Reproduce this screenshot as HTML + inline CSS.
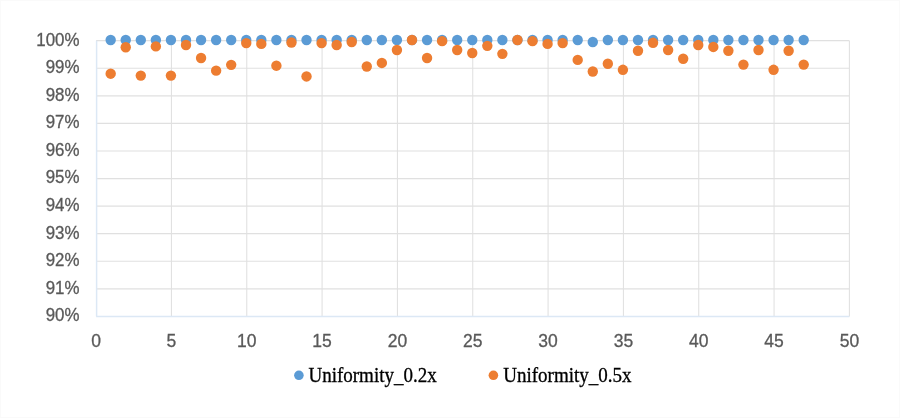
<!DOCTYPE html>
<html><head><meta charset="utf-8"><style>
html,body{margin:0;padding:0;background:#fff;}
body{width:900px;height:418px;overflow:hidden;position:relative;}
svg{position:absolute;left:0;top:0;filter:blur(0.35px);}
.ax{font-family:"Liberation Sans",sans-serif;font-size:17.5px;fill:#595959;stroke:#595959;stroke-width:0.3px;}
.lg{font-family:"Liberation Serif",serif;font-size:19px;fill:#000;stroke:#000;stroke-width:0.3px;}
</style></head><body>
<svg width="900" height="418" viewBox="0 0 900 418">
<rect x="0.5" y="0.5" width="899" height="417" fill="#fff" stroke="#fafafa" stroke-width="1"/>
<line x1="96.10" y1="288.83" x2="849.40" y2="288.83" stroke="#e0e0e0" stroke-width="1.2"/>
<line x1="96.10" y1="261.26" x2="849.40" y2="261.26" stroke="#e0e0e0" stroke-width="1.2"/>
<line x1="96.10" y1="233.69" x2="849.40" y2="233.69" stroke="#e0e0e0" stroke-width="1.2"/>
<line x1="96.10" y1="206.12" x2="849.40" y2="206.12" stroke="#e0e0e0" stroke-width="1.2"/>
<line x1="96.10" y1="178.55" x2="849.40" y2="178.55" stroke="#e0e0e0" stroke-width="1.2"/>
<line x1="96.10" y1="150.98" x2="849.40" y2="150.98" stroke="#e0e0e0" stroke-width="1.2"/>
<line x1="96.10" y1="123.41" x2="849.40" y2="123.41" stroke="#e0e0e0" stroke-width="1.2"/>
<line x1="96.10" y1="95.84" x2="849.40" y2="95.84" stroke="#e0e0e0" stroke-width="1.2"/>
<line x1="96.10" y1="68.27" x2="849.40" y2="68.27" stroke="#e0e0e0" stroke-width="1.2"/>
<line x1="96.10" y1="40.70" x2="849.40" y2="40.70" stroke="#e0e0e0" stroke-width="1.2"/>
<line x1="171.43" y1="40.70" x2="171.43" y2="316.40" stroke="#e0e0e0" stroke-width="1.05"/>
<line x1="246.76" y1="40.70" x2="246.76" y2="316.40" stroke="#e0e0e0" stroke-width="1.05"/>
<line x1="322.09" y1="40.70" x2="322.09" y2="316.40" stroke="#e0e0e0" stroke-width="1.05"/>
<line x1="397.42" y1="40.70" x2="397.42" y2="316.40" stroke="#e0e0e0" stroke-width="1.05"/>
<line x1="472.75" y1="40.70" x2="472.75" y2="316.40" stroke="#e0e0e0" stroke-width="1.05"/>
<line x1="548.08" y1="40.70" x2="548.08" y2="316.40" stroke="#e0e0e0" stroke-width="1.05"/>
<line x1="623.41" y1="40.70" x2="623.41" y2="316.40" stroke="#e0e0e0" stroke-width="1.05"/>
<line x1="698.74" y1="40.70" x2="698.74" y2="316.40" stroke="#e0e0e0" stroke-width="1.05"/>
<line x1="774.07" y1="40.70" x2="774.07" y2="316.40" stroke="#e0e0e0" stroke-width="1.05"/>
<line x1="849.40" y1="40.70" x2="849.40" y2="316.40" stroke="#e0e0e0" stroke-width="1.05"/>
<line x1="96.60" y1="40.70" x2="96.60" y2="316.40" stroke="#dce8f5" stroke-width="1.5"/>
<line x1="96.10" y1="316.40" x2="849.40" y2="316.40" stroke="#dce8f5" stroke-width="1.5"/>
<circle cx="110.67" cy="40.05" r="5.2" fill="#5b9bd5"/>
<circle cx="125.73" cy="40.05" r="5.2" fill="#5b9bd5"/>
<circle cx="140.80" cy="40.05" r="5.2" fill="#5b9bd5"/>
<circle cx="155.86" cy="40.05" r="5.2" fill="#5b9bd5"/>
<circle cx="170.93" cy="40.05" r="5.2" fill="#5b9bd5"/>
<circle cx="186.00" cy="40.05" r="5.2" fill="#5b9bd5"/>
<circle cx="201.06" cy="40.05" r="5.2" fill="#5b9bd5"/>
<circle cx="216.13" cy="40.05" r="5.2" fill="#5b9bd5"/>
<circle cx="231.19" cy="40.05" r="5.2" fill="#5b9bd5"/>
<circle cx="246.26" cy="40.05" r="5.2" fill="#5b9bd5"/>
<circle cx="261.33" cy="40.05" r="5.2" fill="#5b9bd5"/>
<circle cx="276.39" cy="40.05" r="5.2" fill="#5b9bd5"/>
<circle cx="291.46" cy="40.05" r="5.2" fill="#5b9bd5"/>
<circle cx="306.52" cy="40.05" r="5.2" fill="#5b9bd5"/>
<circle cx="321.59" cy="40.05" r="5.2" fill="#5b9bd5"/>
<circle cx="336.66" cy="40.05" r="5.2" fill="#5b9bd5"/>
<circle cx="351.72" cy="40.05" r="5.2" fill="#5b9bd5"/>
<circle cx="366.79" cy="40.05" r="5.2" fill="#5b9bd5"/>
<circle cx="381.85" cy="40.05" r="5.2" fill="#5b9bd5"/>
<circle cx="396.92" cy="40.05" r="5.2" fill="#5b9bd5"/>
<circle cx="411.99" cy="40.05" r="5.2" fill="#5b9bd5"/>
<circle cx="427.05" cy="40.05" r="5.2" fill="#5b9bd5"/>
<circle cx="442.12" cy="40.05" r="5.2" fill="#5b9bd5"/>
<circle cx="457.18" cy="40.05" r="5.2" fill="#5b9bd5"/>
<circle cx="472.25" cy="40.05" r="5.2" fill="#5b9bd5"/>
<circle cx="487.32" cy="40.05" r="5.2" fill="#5b9bd5"/>
<circle cx="502.38" cy="40.05" r="5.2" fill="#5b9bd5"/>
<circle cx="517.45" cy="40.05" r="5.2" fill="#5b9bd5"/>
<circle cx="532.51" cy="40.05" r="5.2" fill="#5b9bd5"/>
<circle cx="547.58" cy="40.05" r="5.2" fill="#5b9bd5"/>
<circle cx="562.65" cy="40.05" r="5.2" fill="#5b9bd5"/>
<circle cx="577.71" cy="40.05" r="5.2" fill="#5b9bd5"/>
<circle cx="592.78" cy="41.98" r="5.2" fill="#5b9bd5"/>
<circle cx="607.84" cy="40.05" r="5.2" fill="#5b9bd5"/>
<circle cx="622.91" cy="40.05" r="5.2" fill="#5b9bd5"/>
<circle cx="637.98" cy="40.05" r="5.2" fill="#5b9bd5"/>
<circle cx="653.04" cy="40.05" r="5.2" fill="#5b9bd5"/>
<circle cx="668.11" cy="40.05" r="5.2" fill="#5b9bd5"/>
<circle cx="683.17" cy="40.05" r="5.2" fill="#5b9bd5"/>
<circle cx="698.24" cy="40.05" r="5.2" fill="#5b9bd5"/>
<circle cx="713.31" cy="40.05" r="5.2" fill="#5b9bd5"/>
<circle cx="728.37" cy="40.05" r="5.2" fill="#5b9bd5"/>
<circle cx="743.44" cy="40.05" r="5.2" fill="#5b9bd5"/>
<circle cx="758.50" cy="40.05" r="5.2" fill="#5b9bd5"/>
<circle cx="773.57" cy="40.05" r="5.2" fill="#5b9bd5"/>
<circle cx="788.64" cy="40.05" r="5.2" fill="#5b9bd5"/>
<circle cx="803.70" cy="40.05" r="5.2" fill="#5b9bd5"/>
<circle cx="110.67" cy="73.68" r="5.2" fill="#ed7d31"/>
<circle cx="125.73" cy="47.22" r="5.2" fill="#ed7d31"/>
<circle cx="140.80" cy="75.61" r="5.2" fill="#ed7d31"/>
<circle cx="155.86" cy="46.39" r="5.2" fill="#ed7d31"/>
<circle cx="170.93" cy="75.61" r="5.2" fill="#ed7d31"/>
<circle cx="186.00" cy="45.01" r="5.2" fill="#ed7d31"/>
<circle cx="201.06" cy="57.97" r="5.2" fill="#ed7d31"/>
<circle cx="216.13" cy="70.65" r="5.2" fill="#ed7d31"/>
<circle cx="231.19" cy="64.86" r="5.2" fill="#ed7d31"/>
<circle cx="246.26" cy="43.08" r="5.2" fill="#ed7d31"/>
<circle cx="261.33" cy="43.91" r="5.2" fill="#ed7d31"/>
<circle cx="276.39" cy="65.69" r="5.2" fill="#ed7d31"/>
<circle cx="291.46" cy="42.53" r="5.2" fill="#ed7d31"/>
<circle cx="306.52" cy="76.44" r="5.2" fill="#ed7d31"/>
<circle cx="321.59" cy="43.08" r="5.2" fill="#ed7d31"/>
<circle cx="336.66" cy="45.01" r="5.2" fill="#ed7d31"/>
<circle cx="351.72" cy="41.98" r="5.2" fill="#ed7d31"/>
<circle cx="366.79" cy="66.52" r="5.2" fill="#ed7d31"/>
<circle cx="381.85" cy="62.93" r="5.2" fill="#ed7d31"/>
<circle cx="396.92" cy="49.97" r="5.2" fill="#ed7d31"/>
<circle cx="411.99" cy="40.05" r="5.2" fill="#ed7d31"/>
<circle cx="427.05" cy="57.97" r="5.2" fill="#ed7d31"/>
<circle cx="442.12" cy="41.15" r="5.2" fill="#ed7d31"/>
<circle cx="457.18" cy="49.97" r="5.2" fill="#ed7d31"/>
<circle cx="472.25" cy="53.01" r="5.2" fill="#ed7d31"/>
<circle cx="487.32" cy="45.84" r="5.2" fill="#ed7d31"/>
<circle cx="502.38" cy="53.83" r="5.2" fill="#ed7d31"/>
<circle cx="517.45" cy="40.05" r="5.2" fill="#ed7d31"/>
<circle cx="532.51" cy="41.15" r="5.2" fill="#ed7d31"/>
<circle cx="547.58" cy="43.91" r="5.2" fill="#ed7d31"/>
<circle cx="562.65" cy="43.08" r="5.2" fill="#ed7d31"/>
<circle cx="577.71" cy="59.90" r="5.2" fill="#ed7d31"/>
<circle cx="592.78" cy="71.48" r="5.2" fill="#ed7d31"/>
<circle cx="607.84" cy="63.76" r="5.2" fill="#ed7d31"/>
<circle cx="622.91" cy="69.82" r="5.2" fill="#ed7d31"/>
<circle cx="637.98" cy="50.80" r="5.2" fill="#ed7d31"/>
<circle cx="653.04" cy="42.81" r="5.2" fill="#ed7d31"/>
<circle cx="668.11" cy="49.97" r="5.2" fill="#ed7d31"/>
<circle cx="683.17" cy="58.80" r="5.2" fill="#ed7d31"/>
<circle cx="698.24" cy="45.01" r="5.2" fill="#ed7d31"/>
<circle cx="713.31" cy="46.94" r="5.2" fill="#ed7d31"/>
<circle cx="728.37" cy="50.80" r="5.2" fill="#ed7d31"/>
<circle cx="743.44" cy="64.59" r="5.2" fill="#ed7d31"/>
<circle cx="758.50" cy="49.97" r="5.2" fill="#ed7d31"/>
<circle cx="773.57" cy="69.82" r="5.2" fill="#ed7d31"/>
<circle cx="788.64" cy="50.80" r="5.2" fill="#ed7d31"/>
<circle cx="803.70" cy="64.59" r="5.2" fill="#ed7d31"/>
<text x="79.5" y="321.30" text-anchor="end" class="ax" transform="translate(79.5 0) scale(0.965 1) translate(-79.5 0)">90%</text>
<text x="79.5" y="293.73" text-anchor="end" class="ax" transform="translate(79.5 0) scale(0.965 1) translate(-79.5 0)">91%</text>
<text x="79.5" y="266.16" text-anchor="end" class="ax" transform="translate(79.5 0) scale(0.965 1) translate(-79.5 0)">92%</text>
<text x="79.5" y="238.59" text-anchor="end" class="ax" transform="translate(79.5 0) scale(0.965 1) translate(-79.5 0)">93%</text>
<text x="79.5" y="211.02" text-anchor="end" class="ax" transform="translate(79.5 0) scale(0.965 1) translate(-79.5 0)">94%</text>
<text x="79.5" y="183.45" text-anchor="end" class="ax" transform="translate(79.5 0) scale(0.965 1) translate(-79.5 0)">95%</text>
<text x="79.5" y="155.88" text-anchor="end" class="ax" transform="translate(79.5 0) scale(0.965 1) translate(-79.5 0)">96%</text>
<text x="79.5" y="128.31" text-anchor="end" class="ax" transform="translate(79.5 0) scale(0.965 1) translate(-79.5 0)">97%</text>
<text x="79.5" y="100.74" text-anchor="end" class="ax" transform="translate(79.5 0) scale(0.965 1) translate(-79.5 0)">98%</text>
<text x="79.5" y="73.17" text-anchor="end" class="ax" transform="translate(79.5 0) scale(0.965 1) translate(-79.5 0)">99%</text>
<text x="79.5" y="45.60" text-anchor="end" class="ax" transform="translate(79.5 0) scale(0.965 1) translate(-79.5 0)">100%</text>
<text x="96.10" y="346.7" text-anchor="middle" class="ax">0</text>
<text x="171.43" y="346.7" text-anchor="middle" class="ax">5</text>
<text x="246.76" y="346.7" text-anchor="middle" class="ax">10</text>
<text x="322.09" y="346.7" text-anchor="middle" class="ax">15</text>
<text x="397.42" y="346.7" text-anchor="middle" class="ax">20</text>
<text x="472.75" y="346.7" text-anchor="middle" class="ax">25</text>
<text x="548.08" y="346.7" text-anchor="middle" class="ax">30</text>
<text x="623.41" y="346.7" text-anchor="middle" class="ax">35</text>
<text x="698.74" y="346.7" text-anchor="middle" class="ax">40</text>
<text x="774.07" y="346.7" text-anchor="middle" class="ax">45</text>
<text x="849.40" y="346.7" text-anchor="middle" class="ax">50</text>
<circle cx="298.9" cy="375.3" r="4.8" fill="#5b9bd5"/>
<text x="0" y="0" class="lg" transform="translate(308.5 382.3) scale(1 1.05)">Uniformity_0.2x</text>
<circle cx="493.4" cy="375.3" r="4.8" fill="#ed7d31"/>
<text x="0" y="0" class="lg" transform="translate(503.3 382.3) scale(1 1.05)">Uniformity_0.5x</text>
</svg>
</body></html>
